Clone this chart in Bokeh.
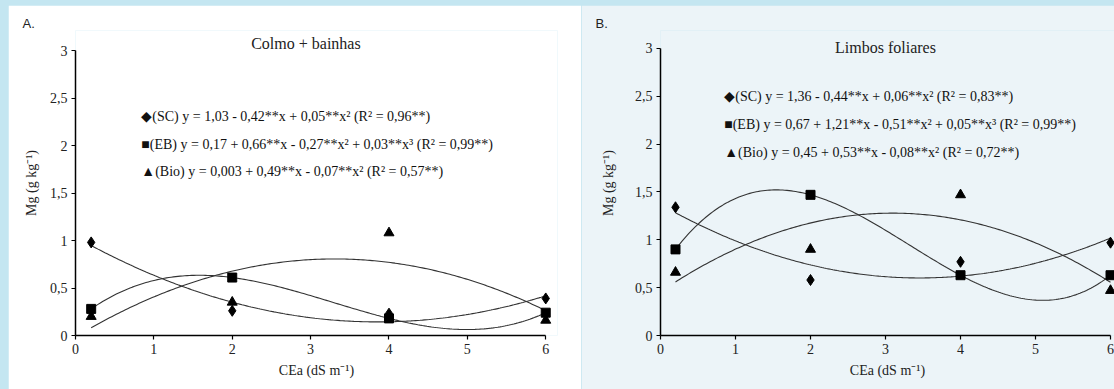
import numpy as np
from bokeh.plotting import figure
from bokeh.models import Label, FixedTicker, Range1d, CustomJSTickFormatter
from bokeh.layouts import row
from bokeh.embed import file_html
from bokeh.resources import INLINE

# ---- data ----
x_cea = [0.2, 2, 4, 6]
x_ticks = [0, 1, 2, 3, 4, 5, 6]
y_ticks = [0, 0.5, 1, 1.5, 2, 2.5, 3]

a_sc = [0.98, 0.26, 0.23, 0.39]
a_eb = [0.28, 0.61, 0.18, 0.24]
a_bio = [0.20, 0.35, 1.08, 0.16]

b_sc = [1.34, 0.58, 0.77, 0.97]
b_eb = [0.90, 1.47, 0.63, 0.63]
b_bio = [0.66, 0.90, 1.47, 0.47]

a_title = "Colmo + bainhas"
b_title = "Limbos foliares"
a_eqs = [
    "◆(SC) y = 1,03 - 0,42**x + 0,05**x² (R² = 0,96**)",
    "■(EB) y = 0,17 + 0,66**x - 0,27**x² + 0,03**x³ (R² = 0,99**)",
    "▲(Bio) y = 0,003 + 0,49**x  - 0,07**x² (R² = 0,57**)",
]
b_eqs = [
    "◆(SC) y = 1,36 - 0,44**x + 0,06**x² (R² = 0,83**)",
    "■(EB) y = 0,67 + 1,21**x - 0,51**x²  + 0,05**x³ (R² = 0,99**)",
    "▲(Bio) y = 0,45 + 0,53**x  - 0,08**x² (R² = 0,72**)",
]

SERIF = "Liberation Serif"
SANS = "Liberation Sans"
HEIGHT = 384
TOP = 25


def make_panel(width, left, right, x_end, y3_px, y0_px, bg, letter, letter_off,
               title, title_xy, eqs, eq_x, eq_ys, sc, eb, bio, ylab_standoff):
    px_per_y = (y0_px - y3_px) / 3.0
    y_end = 3 + (y3_px - TOP) / px_per_y
    bottom = HEIGHT - y0_px
    p = figure(width=width, height=HEIGHT, output_backend="svg", toolbar_location=None,
               x_range=Range1d(0, x_end), y_range=Range1d(0, y_end),
               min_border_left=left, min_border_right=right,
               min_border_top=TOP, min_border_bottom=bottom)
    p.background_fill_color = bg
    p.border_fill_color = bg
    p.outline_line_color = None
    p.grid.visible = False

    for ax in (p.xaxis[0], p.yaxis[0]):
        ax.axis_line_color = "black"
        ax.axis_line_width = 1.5
        ax.major_tick_line_color = "black"
        ax.major_tick_line_width = 1.2
        ax.major_tick_in = 0
        ax.major_tick_out = 4
        ax.minor_tick_line_color = None
        ax.major_label_text_font = SERIF
        ax.major_label_text_font_size = "14px"
        ax.major_label_text_color = "#222222"
        ax.axis_label_text_font = SERIF
        ax.axis_label_text_font_size = "14px"
        ax.axis_label_text_font_style = "normal"
        ax.axis_label_text_color = "#222222"
        ax.major_label_standoff = 4
    p.xaxis.ticker = FixedTicker(ticks=x_ticks)
    p.yaxis.ticker = FixedTicker(ticks=y_ticks)
    p.xaxis.bounds = (0, 6)
    p.yaxis.bounds = (0, 3)
    p.yaxis.formatter = CustomJSTickFormatter(code="return String(tick).replace('.', ',');")
    p.xaxis.axis_label = "CEa (dS m⁻¹)"
    p.yaxis.axis_label = "Mg (g kg⁻¹)"
    p.xaxis.axis_label_standoff = 6
    p.yaxis.axis_label_standoff = ylab_standoff

    xs = np.linspace(min(x_cea), max(x_cea), 200)
    for ys, deg in ((sc, 2), (eb, 3), (bio, 2)):
        coef = np.polyfit(x_cea, ys, deg)
        p.line(xs, np.polyval(coef, xs), line_color="#333333", line_width=1.1)

    p.scatter(x_cea, sc, marker="diamond", size=11, color="black")
    p.scatter(x_cea, eb, marker="square", size=9, color="black")
    p.scatter(x_cea, bio, marker="triangle", size=10, color="black")

    p.title.text = letter
    p.title.align = "left"
    p.title.offset = letter_off
    p.title.standoff = 0
    p.title.text_font = SANS
    p.title.text_font_size = "13px"
    p.title.text_font_style = "normal"
    p.title.text_color = "#222222"

    p.add_layout(Label(x=title_xy[0], y=title_xy[1], text=title, text_font=SERIF,
                       text_font_size="16px", text_color="#222222", text_align="center",
                       text_baseline="middle"))
    for t, yy in zip(eqs, eq_ys):
        p.add_layout(Label(x=eq_x, y=yy, text=t, text_font=SERIF, text_font_size="14px",
                           text_color="#111111", text_baseline="middle"))
    return p


pA = make_panel(573, 67, 24, 6.15, 45, 330, "white", "A.", -53, a_title, (2.94, 3.074),
                a_eqs, 0.84, [2.305, 2.01, 1.726], a_sc, a_eb, a_bio, 8)
pB = make_panel(533, 79, 0, 6.053, 43, 331, "#ecf4f8", "B.", -65, b_title, (3.0, 3.01),
                b_eqs, 0.85, [2.50, 2.20, 1.91], b_sc, b_eb, b_bio, 16)
pA.margin = (5, 0, 0, 8)
pB.margin = (5, 0, 0, 0)

layout = row(pA, pB, styles={"background-color": "#c4e6f1"})
open("out.html", "w").write(file_html(layout, INLINE))
